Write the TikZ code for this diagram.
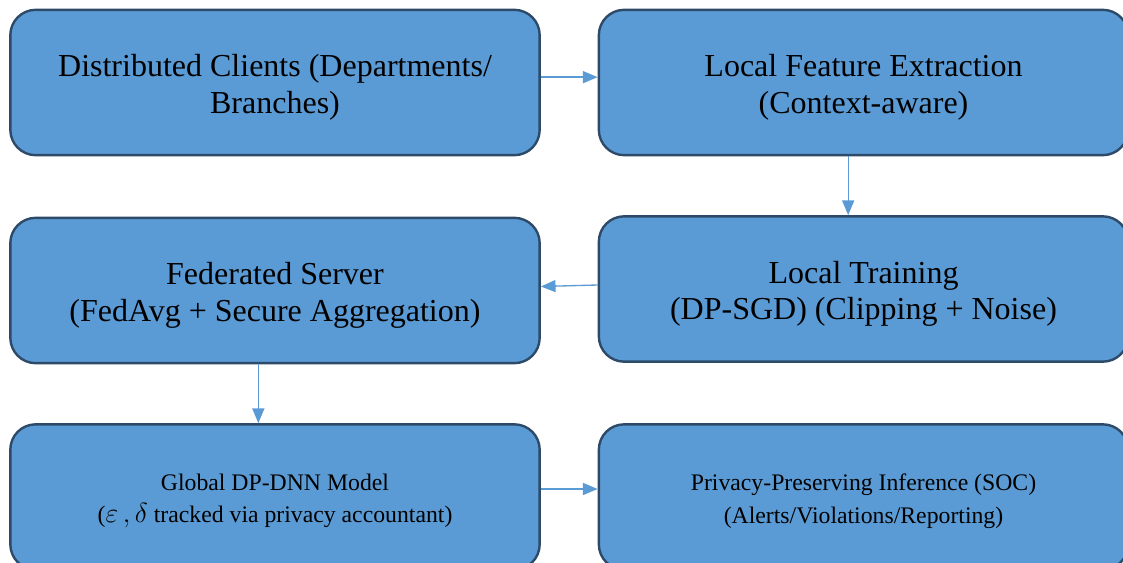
\documentclass[tikz,border=0pt]{standalone}
\usepackage{fontspec}
\setmainfont{Liberation Serif}
\usetikzlibrary{arrows.meta,positioning}
\definecolor{boxblue}{HTML}{5B9BD5}
\definecolor{boxedge}{HTML}{2E4A69}
\definecolor{flowblue}{HTML}{5B9BD5}
\tikzset{
  stage/.style={draw=boxedge, line width=1.8pt, fill=boxblue, rounded corners=19pt,
    minimum width=397pt, minimum height=109pt, align=center, inner sep=0pt,
    font=\fontsize{24}{27.5}\selectfont, text height=51.5pt},
  smallstage/.style={stage, font=\fontsize{17.8}{24.5}\selectfont, text height=43pt},
  flow/.style={draw=flowblue, line width=1pt, -{Triangle[length=11pt,width=9pt]}}
}
\begin{document}
\begin{tikzpicture}[x=0.75pt,y=-0.75pt]
    \useasboundingbox (0,0) rectangle (1123,563);
    % Clients and local side
    \node[stage] (clients) at (275,82.5) {Distributed Clients (Departments/\\Branches)};
    \node[stage] (extract) at (863.5,82.5) {Local Feature Extraction\\(Context-aware)};
    \node[stage] (training) at (863.5,289) {Local Training\\(DP-SGD) (Clipping + Noise)};
    % Server side
    \node[stage] (server) at (275,290.5) {Federated Server\\(FedAvg + Secure Aggregation)};
    \node[smallstage] (model) at (275,497) {Global DP-DNN Model\\({\fontsize{21}{24.5}\selectfont\(\varepsilon\,,\delta\)} tracked via privacy accountant)};
    \node[smallstage] (inference) at (863.5,497) {Privacy-Preserving Inference (SOC)\\(Alerts/Violations/Reporting)};

    % Flow
    \draw[flow] ([yshift=4pt]clients.east) -- ([yshift=4pt]extract.west);
    \draw[flow] ([xshift=-11.5pt]extract.south) -- ([xshift=-11.5pt]training.north);
    \draw[flow] ([yshift=3pt]training.west) -- ([yshift=3pt]server.east);
    \draw[flow] ([xshift=-12.5pt]server.south) -- ([xshift=-12.5pt]model.north);
    \draw[flow] ([yshift=6pt]model.east) -- ([yshift=6pt]inference.west);
\end{tikzpicture}
\end{document}
